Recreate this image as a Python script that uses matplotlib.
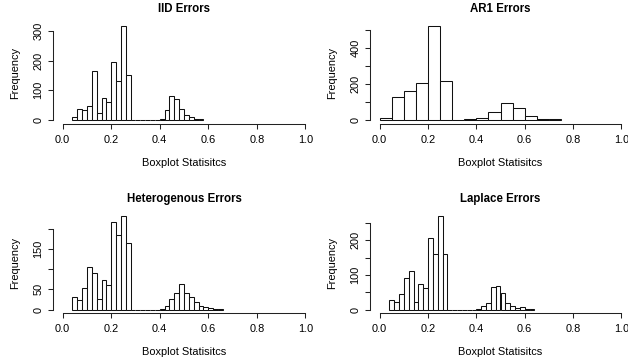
import numpy as np
import matplotlib
matplotlib.use("Agg")
import matplotlib.pyplot as plt

plt.rcParams['font.family'] = ['Liberation Sans', 'DejaVu Sans']

# histogram counts, one entry per bin
iid_counts = [10, 38, 34, 46, 166, 24, 74, 59, 194, 132, 316, 152,
              0, 0, 0, 0, 0, 0,
              2, 34, 82, 70, 37, 16, 9, 3, 2]
ar1_counts = [13, 129, 164, 207, 523, 219, 0, 2, 11, 43, 95, 64, 19, 7, 4]
het_counts = [30, 23, 53, 105, 91, 26, 72, 60, 216, 184, 232, 164,
              0, 0, 0, 0, 0, 0,
              2, 10, 26, 42, 62, 40, 30, 19, 8, 6, 3, 2, 2]
lap_counts = [29, 23, 46, 92, 111, 23, 73, 61, 206, 160, 271, 161,
              0, 0, 0, 0, 0, 0,
              1, 9, 20, 65, 68, 48, 20, 11, 5, 6, 1, 1]

# first bin edge and bin width for each panel
iid_bins = (0.04, 0.02)
ar1_bins = (0.00, 0.05)
het_bins = (0.04, 0.02)
lap_bins = (0.04, 0.02)

titles = ["IID Errors", "AR1 Errors", "Heterogenous Errors", "Laplace Errors"]
xticks = [0.0, 0.2, 0.4, 0.6, 0.8, 1.0]
xtick_labels = ["0.0", "0.2", "0.4", "0.6", "0.8", "1.0"]

# y ticks, and which of them R kept a label for
yticks = [[0, 100, 200, 300],
          [0, 100, 200, 300, 400, 500],
          [0, 50, 100, 150, 200],
          [0, 50, 100, 150, 200, 250]]
ytick_labels = [["0", "100", "200", "300"],
                ["0", "", "200", "", "400", ""],
                ["0", "50", "", "150", ""],
                ["0", "", "100", "", "200", ""]]

W, H = 628, 364
LW = 0.75
FS = 7.9

# plot regions in pixels: (left, right, top, bottom)
boxes = [(53, 315, 22.5, 123.6), (370, 631, 22.5, 123.6),
         (53, 315, 212.0, 313.3), (370, 631, 212.0, 313.3)]

fig = plt.figure(figsize=(W / 100, H / 100), dpi=100)

panels = [(iid_counts, iid_bins), (ar1_counts, ar1_bins),
          (het_counts, het_bins), (lap_counts, lap_bins)]

for i, (counts, (start, width)) in enumerate(panels):
    l, r, t, b = boxes[i]
    ax = fig.add_axes([l / W, 1 - b / H, (r - l) / W, (b - t) / H])
    counts = np.array(counts)
    edges = start + width * np.arange(len(counts))
    ax.bar(edges, counts, width=width, align='edge', facecolor='white',
           edgecolor='#111111', linewidth=LW)

    ymax = counts.max()
    ax.set_xlim(-0.04, 1.04)
    ax.set_ylim(-0.04 * ymax, 1.04 * ymax)

    for s in ['top', 'right']:
        ax.spines[s].set_visible(False)
    for s in ['left', 'bottom']:
        ax.spines[s].set_linewidth(LW)
        ax.spines[s].set_color('#222222')
    ax.spines['bottom'].set_bounds(0, 1)
    ax.spines['left'].set_bounds(0, yticks[i][-1])

    ax.set_xticks(xticks)
    ax.set_xticklabels(xtick_labels)
    ax.set_yticks(yticks[i])
    ax.set_yticklabels(ytick_labels[i], rotation=90, va='center')
    ax.tick_params(axis='both', length=3.3, width=LW, labelsize=FS,
                   color='#222222')
    ax.tick_params(axis='x', pad=4.6)
    ax.tick_params(axis='y', pad=3.6)

    ax.set_title(titles[i], fontsize=8.3, fontweight='bold', pad=7.5)
    ax.set_xlabel("Boxplot Statisitcs", fontsize=FS)
    ax.set_ylabel("Frequency", fontsize=FS)
    # label positions in pixels from the plot region, as axes fractions
    ax.xaxis.set_label_coords(0.5, -34.0 / (b - t))
    ax.yaxis.set_label_coords(-33.0 / (r - l), 0.5)

fig.savefig("out.png", dpi=100)
